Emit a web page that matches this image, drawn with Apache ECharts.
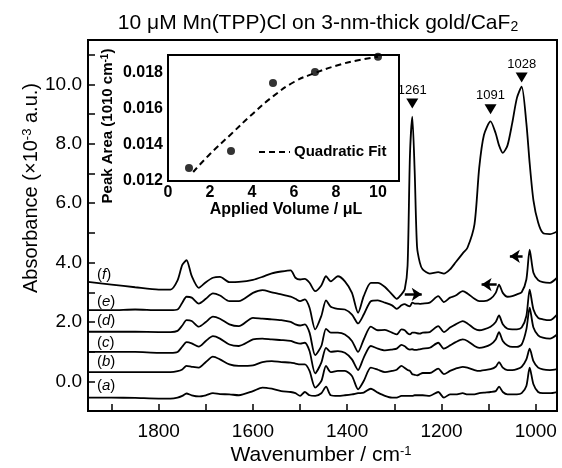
<!DOCTYPE html>
<html>
<head>
<meta charset="utf-8">
<script src="https://cdn.jsdelivr.net/npm/echarts@6/dist/echarts.min.js"></script>
<style>
html, body { margin: 0; padding: 0; background: #fff; }
#main { width: 562px; height: 468px; }
</style>
</head>
<body>
<div id="main"></div>
<script>
// wavenumber grid (cm-1) shared by the six spectra
var wavenumber = [1950, 1900, 1850, 1800, 1775, 1760, 1750, 1741, 1730, 1715, 1700, 1685, 1670, 1650, 1630,
    1600, 1580, 1560, 1540, 1520, 1510, 1500, 1490, 1480, 1468, 1455, 1445, 1435, 1420, 1405, 1390, 1377,
    1365, 1350, 1335, 1320, 1305, 1295, 1285, 1278, 1272, 1267, 1262, 1257, 1252, 1246, 1240, 1225, 1207,
    1195, 1182, 1170, 1155, 1145, 1130, 1120, 1110, 1096, 1085, 1078, 1070, 1060, 1050, 1040, 1030, 1020,
    1013, 1005, 995, 985, 970, 955];

var traceA = [-0.55, -0.55, -0.56, -0.58, -0.58, -0.55, -0.49, -0.41, -0.47, -0.51, -0.47, -0.40, -0.43, -0.44, -0.47,
    -0.33, -0.21, -0.25, -0.33, -0.36, -0.40, -0.49, -0.36, -0.47, -0.49, -0.40, -0.18, -0.47, -0.49, -0.47, -0.44, -0.40,
    -0.38, -0.25, -0.38, -0.49, -0.55, -0.55, -0.49, -0.49, -0.49, -0.49, -0.49, -0.47, -0.47, -0.47, -0.47, -0.49, -0.36,
    -0.55, -0.44, -0.44, -0.40, -0.44, -0.44, -0.40, -0.38, -0.36, -0.33, -0.18, -0.36, -0.44, -0.44, -0.44, -0.40, -0.16,
    0.46, -0.10, -0.36, -0.40, -0.40, -0.36];
var traceB = [0.31, 0.31, 0.31, 0.31, 0.31, 0.34, 0.40, 0.52, 0.49, 0.46, 0.65, 0.83, 0.74, 0.57, 0.52,
    0.54, 0.65, 0.68, 0.65, 0.63, 0.60, 0.57, 0.57, 0.35, -0.21, 0.01, 0.52, 0.31, 0.35, 0.35, 0.18, -0.27,
    0.01, 0.46, 0.39, 0.31, 0.35, 0.39, 0.52, 0.45, 0.38, 0.35, 0.24, 0.22, 0.20, 0.24, 0.28, 0.28, 0.43,
    0.24, 0.35, 0.43, 0.49, 0.46, 0.38, 0.35, 0.38, 0.41, 0.49, 0.65, 0.46, 0.38, 0.38, 0.41, 0.49, 0.74,
    1.10, 0.68, 0.46, 0.40, 0.38, 0.41];
var traceC = [0.99, 0.99, 0.99, 0.96, 0.96, 0.99, 1.17, 1.32, 1.28, 1.17, 1.36, 1.52, 1.44, 1.24, 1.19,
    1.41, 1.44, 1.41, 1.39, 1.36, 1.30, 1.27, 1.30, 1.02, 0.27, 0.63, 1.13, 0.99, 1.02, 0.96, 0.74, 0.38,
    0.80, 1.19, 1.10, 1.04, 1.07, 1.10, 1.23, 1.18, 1.10, 1.07, 1.08, 1.06, 1.06, 1.08, 1.10, 1.13, 1.30,
    1.10, 1.21, 1.32, 1.41, 1.36, 1.19, 1.13, 1.15, 1.24, 1.41, 1.66, 1.36, 1.21, 1.16, 1.16, 1.24, 1.75,
    2.48, 1.81, 1.55, 1.47, 1.44, 1.58];
var traceD = [1.67, 1.67, 1.67, 1.66, 1.66, 1.70, 1.88, 2.06, 2.03, 1.84, 2.00, 2.18, 2.11, 1.92, 1.86,
    2.14, 2.11, 2.09, 2.06, 2.00, 1.92, 1.88, 1.92, 1.64, 0.88, 1.19, 1.77, 1.64, 1.64, 1.58, 1.36, 0.99,
    1.41, 1.84, 1.72, 1.73, 1.64, 1.58, 1.75, 1.72, 1.62, 1.58, 1.64, 1.64, 1.62, 1.61, 1.64, 1.66, 1.86,
    1.66, 1.81, 1.92, 2.03, 1.95, 1.77, 1.72, 1.75, 1.84, 2.00, 2.22, 1.92, 1.77, 1.75, 1.75, 1.81, 2.20,
    3.09, 2.42, 2.14, 2.09, 2.06, 2.25];
var traceE = [2.40, 2.40, 2.42, 2.40, 2.40, 2.42, 2.65, 2.85, 2.82, 2.62, 2.78, 2.96, 2.89, 2.70, 2.70,
    2.98, 3.07, 3.00, 2.93, 2.85, 2.78, 2.70, 2.76, 2.48, 1.75, 2.20, 2.73, 2.51, 2.44, 2.42, 2.25, 1.95,
    2.25, 2.70, 2.73, 2.65, 2.56, 2.44, 2.56, 2.60, 2.55, 2.53, 2.65, 2.62, 2.62, 2.61, 2.62, 2.65, 2.87,
    2.67, 2.82, 2.89, 3.04, 2.96, 2.78, 2.70, 2.70, 2.78, 2.98, 3.26, 2.98, 2.85, 2.87, 2.93, 3.00, 3.43,
    4.44, 3.66, 3.41, 3.34, 3.32, 3.49];
var traceF = [3.35, 3.26, 3.17, 3.09, 3.09, 3.40, 3.92, 4.08, 3.55, 3.15, 3.34, 3.49, 3.52, 3.34, 3.35,
    3.42, 3.52, 3.64, 3.70, 3.74, 3.49, 3.43, 3.45, 3.32, 3.04, 3.23, 3.54, 3.37, 3.54, 3.37, 2.98, 2.31,
    2.87, 3.32, 3.32, 3.18, 2.93, 2.78, 2.93, 3.10, 3.90, 7.60, 8.92, 7.10, 4.55, 4.00, 3.77, 3.63, 3.68,
    3.63, 3.77, 4.01, 4.31, 4.50, 5.30, 7.20, 8.30, 8.76, 8.35, 7.95, 7.70, 7.95, 8.70, 9.55, 9.93, 8.70,
    7.35, 6.10, 5.35, 5.00, 4.96, 5.05];

// inset: peak area of the 1010 cm-1 band vs applied volume
var volume = [1, 3, 5, 7, 10];
var peakArea = [0.01272, 0.01367, 0.01745, 0.01805, 0.0189];
var fitVolume = [1.2, 2, 3, 4, 5, 6, 7, 8, 9, 10];
var fitArea = [0.0125, 0.0135, 0.0146, 0.0157, 0.0167, 0.0175, 0.0180, 0.0184, 0.0187, 0.0189];

// tick labels
var xLabelValues = [1000, 1200, 1400, 1600, 1800];
var xTickValues = [1000, 1100, 1200, 1300, 1400, 1500, 1600, 1700, 1800, 1900];
var yLabelValues = [0, 2, 4, 6, 8, 10];
var yTickValues = [-1, 0, 1, 2, 3, 4, 5, 6, 7, 8, 9, 10, 11];
var insetXLabels = [0, 2, 4, 6, 8, 10];
var insetXTicks = [0, 1, 2, 3, 4, 5, 6, 7, 8, 9, 10, 11];
var insetYLabels = [0.012, 0.014, 0.016, 0.018];
var insetYTicks = [0.012, 0.013, 0.014, 0.015, 0.016, 0.017, 0.018, 0.019];

var peakMarks = [[1262, '1261', -13], [1096, '1091', -12], [1030, '1028', -9]];
var traceNames = ['a', 'b', 'c', 'd', 'e', 'f'];

var FONT = '"Liberation Sans", Arial, sans-serif';

function pairs(xs, ys) {
    return xs.map(function (x, i) { return [x, ys[i]]; });
}

function spectrum(name, values, extra) {
    var s = {
        name: name,
        type: 'line',
        xAxisIndex: 0,
        yAxisIndex: 0,
        data: pairs(wavenumber, values),
        symbol: 'none',
        smooth: 0.25,
        lineStyle: { color: '#000', width: 1.8 },
        z: 3
    };
    for (var k in extra) s[k] = extra[k];
    return s;
}

var myChart = echarts.init(document.getElementById('main'), null, { renderer: 'canvas' });

var option = {
    animation: false,
    backgroundColor: '#fff',
    grid: [{
        left: 88, top: 40, width: 469, height: 371,
        show: true, borderColor: '#000', borderWidth: 2, backgroundColor: 'transparent'
    }, {
        left: 168, top: 55, width: 231, height: 126,
        show: true, borderColor: '#000', borderWidth: 2, backgroundColor: '#fff', z: 4
    }],
    xAxis: [{
        type: 'value', gridIndex: 0, min: 955, max: 1950, inverse: true,
        axisLine: { onZero: false, lineStyle: { color: '#000', width: 2 } },
        axisTick: { inside: true, length: 7, customValues: xTickValues, lineStyle: { color: '#000', width: 1.5 } },
        axisLabel: {
            customValues: xLabelValues, color: '#000', fontSize: 19, fontFamily: FONT, margin: 11,
            formatter: function (v) { return String(v); }
        },
        splitLine: { show: false }
    }, {
        type: 'value', gridIndex: 1, min: 0, max: 11,
        axisLine: { onZero: false, lineStyle: { color: '#000', width: 2 } },
        axisTick: { inside: true, length: 5, customValues: insetXTicks, lineStyle: { color: '#000', width: 1.5 } },
        axisLabel: {
            customValues: insetXLabels, color: '#000', fontSize: 16, fontWeight: 'bold', fontFamily: FONT, margin: 4,
            formatter: function (v) { return String(v); }
        },
        splitLine: { show: false }
    }],
    yAxis: [{
        type: 'value', gridIndex: 0, min: -1, max: 11.5,
        axisLine: { onZero: false, lineStyle: { color: '#000', width: 2 } },
        axisTick: { inside: true, length: 7, customValues: yTickValues, lineStyle: { color: '#000', width: 1.5 } },
        axisLabel: {
            customValues: yLabelValues, color: '#000', fontSize: 19, fontFamily: FONT, margin: 6,
            formatter: function (v) { return v.toFixed(1); }
        },
        splitLine: { show: false }
    }, {
        type: 'value', gridIndex: 1, min: 0.012, max: 0.019,
        axisLine: { onZero: false, lineStyle: { color: '#000', width: 2 } },
        axisTick: { inside: true, length: 5, customValues: insetYTicks, lineStyle: { color: '#000', width: 1.5 } },
        axisLabel: {
            customValues: insetYLabels, color: '#000', fontSize: 16, fontWeight: 'bold', fontFamily: FONT, margin: 5,
            formatter: function (v) { return v.toFixed(3); }
        },
        splitLine: { show: false }
    }],
    series: [
        spectrum('a', traceA),
        spectrum('b', traceB),
        spectrum('c', traceC),
        spectrum('d', traceD),
        spectrum('e', traceE, {
            markLine: {
                silent: true,
                symbol: ['none', 'arrow'],
                symbolSize: 10,
                label: { show: false },
                lineStyle: { color: '#000', width: 2.5, type: 'solid' },
                data: [
                    [{ coord: [1278, 2.93] }, { coord: [1242, 2.93] }],
                    [{ coord: [1083, 3.26] }, { coord: [1115, 3.26] }],
                    [{ coord: [1028, 4.21] }, { coord: [1055, 4.21] }]
                ]
            }
        }),
        spectrum('f', traceF, {
            markPoint: {
                silent: true,
                symbol: 'triangle',
                symbolRotate: 180,
                symbolSize: [12, 10],
                itemStyle: { color: '#000' },
                label: {
                    show: true, position: 'top', distance: 2, color: '#000',
                    fontSize: 13, fontFamily: FONT, formatter: '{b}'
                },
                data: peakMarks.map(function (p) {
                    return {
                        name: p[1],
                        coord: [p[0], traceF[wavenumber.indexOf(p[0])]],
                        symbolOffset: [0, p[2]]
                    };
                })
            }
        }),
        {
            name: 'Quadratic Fit',
            type: 'line',
            xAxisIndex: 1,
            yAxisIndex: 1,
            data: pairs(fitVolume, fitArea),
            symbol: 'none',
            smooth: true,
            lineStyle: { color: '#000', width: 2, type: [6, 4] },
            z: 5
        },
        {
            name: 'Peak Area',
            type: 'scatter',
            xAxisIndex: 1,
            yAxisIndex: 1,
            data: pairs(volume, peakArea),
            symbolSize: 8,
            itemStyle: { color: '#000' },
            clip: false,
            z: 6
        }
    ],
    graphic: [
        {
            type: 'text', x: 318, y: 23, z: 10,
            style: {
                text: '10 μM Mn(TPP)Cl on 3-nm-thick gold/CaF{sub|2}',
                font: '21px ' + FONT, fill: '#000',
                align: 'center', verticalAlign: 'middle', textAlign: 'center', textVerticalAlign: 'middle',
                rich: { sub: { fontSize: 14, fontFamily: FONT, verticalAlign: 'bottom', padding: [8, 0, 0, 0] } }
            }
        },
        {
            type: 'text', x: 31, y: 188, rotation: Math.PI / 2, z: 10,
            style: {
                text: 'Absorbance (×10{sup|-3} a.u.)',
                font: '20px ' + FONT, fill: '#000',
                align: 'center', verticalAlign: 'middle', textAlign: 'center', textVerticalAlign: 'middle',
                rich: { sup: { fontSize: 13, fontFamily: FONT, verticalAlign: 'top', padding: [0, 0, 8, 0] } }
            }
        },
        {
            type: 'text', x: 321, y: 455, z: 10,
            style: {
                text: 'Wavenumber / cm{sup|-1}',
                font: '21px ' + FONT, fill: '#000',
                align: 'center', verticalAlign: 'middle', textAlign: 'center', textVerticalAlign: 'middle',
                rich: { sup: { fontSize: 13, fontFamily: FONT, verticalAlign: 'top', padding: [0, 0, 8, 0] } }
            }
        },
        {
            type: 'text', x: 108, y: 126, rotation: Math.PI / 2, z: 10,
            style: {
                text: 'Peak Area (1010 cm{sup|-1})',
                font: 'bold 15px ' + FONT, fill: '#000',
                align: 'center', verticalAlign: 'middle', textAlign: 'center', textVerticalAlign: 'middle',
                rich: { sup: { fontSize: 10, fontWeight: 'bold', fontFamily: FONT, verticalAlign: 'top', padding: [0, 0, 6, 0] } }
            }
        },
        {
            type: 'text', x: 286, y: 210, z: 10,
            style: {
                text: 'Applied Volume / μL',
                font: 'bold 16px ' + FONT, fill: '#000',
                align: 'center', verticalAlign: 'middle', textAlign: 'center', textVerticalAlign: 'middle'
            }
        },
        {
            type: 'line', z: 10,
            shape: { x1: 259, y1: 152, x2: 290, y2: 152 },
            style: { stroke: '#000', lineWidth: 2, lineDash: [6, 4] }
        },
        {
            type: 'text', x: 294, y: 152, z: 10,
            style: {
                text: 'Quadratic Fit',
                font: 'bold 15px ' + FONT, fill: '#000',
                align: 'left', verticalAlign: 'middle', textAlign: 'left', textVerticalAlign: 'middle'
            }
        }
    ].concat(traceNames.map(function (n, i) {
        var ys = [385.7, 361.7, 342.7, 321, 301.7, 275];
        return {
            type: 'text', x: 97, y: ys[i], z: 10,
            style: {
                text: '({i|' + n + '})',
                font: '15px ' + FONT, fill: '#000',
                align: 'left', verticalAlign: 'middle', textAlign: 'left', textVerticalAlign: 'middle',
                rich: { i: { fontSize: 15, fontStyle: 'italic', fontFamily: FONT } }
            }
        };
    }))
};

myChart.setOption(option);
</script>
</body>
</html>
